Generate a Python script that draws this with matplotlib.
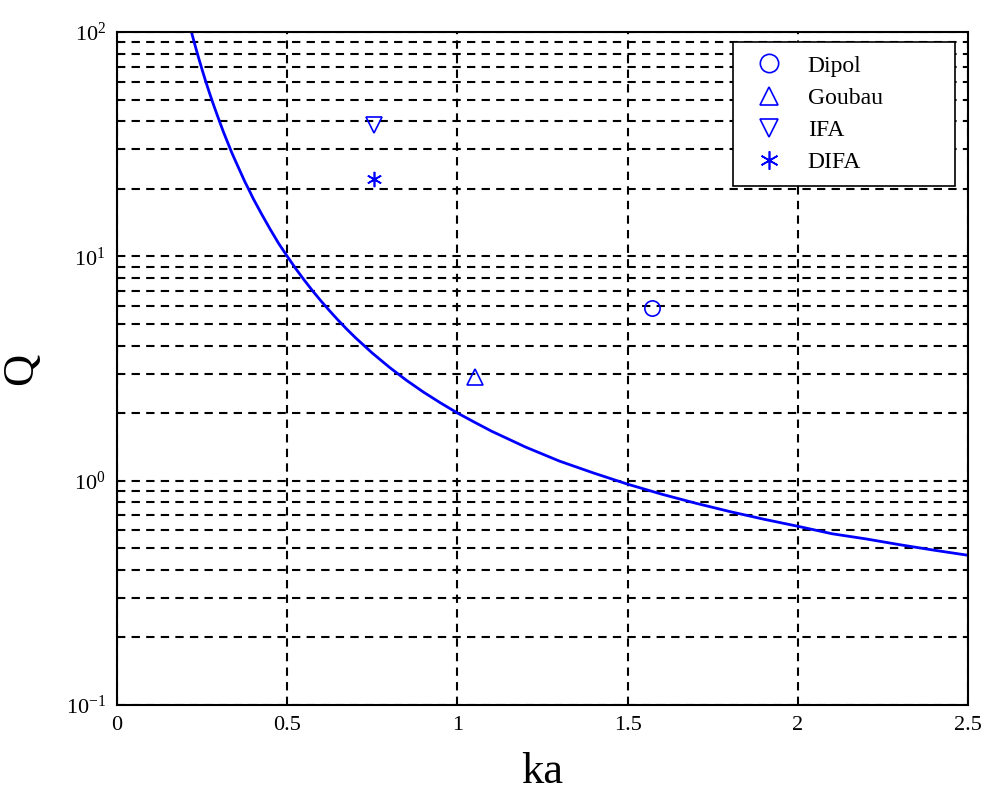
import numpy as np
import matplotlib.pyplot as plt
from matplotlib.ticker import FixedLocator, FuncFormatter

plt.rcParams['font.family'] = ['Liberation Serif', 'DejaVu Serif']
plt.rcParams['axes.unicode_minus'] = False

# Chu limit curve
ka = [0.22, 0.23, 0.24, 0.25, 0.26, 0.27, 0.28, 0.29, 0.30, 0.3125, 0.325,
      0.3375, 0.35, 0.3625, 0.375, 0.3875, 0.40, 0.425, 0.45, 0.475, 0.50,
      0.525, 0.55, 0.575, 0.60, 0.625, 0.65, 0.675, 0.70, 0.75, 0.80, 0.85,
      0.90, 0.95, 1.00, 1.05, 1.10, 1.15, 1.20, 1.30, 1.40, 1.50, 1.60,
      1.70, 1.80, 1.90, 2.00, 2.10, 2.20, 2.30, 2.40, 2.50]
q_chu = [98.4, 86.5, 76.5, 68.0, 60.7, 54.5, 49.1, 44.5, 40.4, 35.9, 32.2,
         28.9, 26.2, 23.8, 21.6, 19.8, 18.1, 15.4, 13.2, 11.4, 10.0,
         8.81, 7.83, 7.00, 6.30, 5.70, 5.18, 4.73, 4.34, 3.70, 3.20, 2.80,
         2.48, 2.22, 2.00, 1.82, 1.66, 1.53, 1.41, 1.22, 1.08, 0.963, 0.869,
         0.792, 0.727, 0.672, 0.625, 0.579, 0.549, 0.517, 0.489, 0.464]

# antenna points
names = ['Dipol', 'Goubau', 'IFA', 'DIFA']
ka_pts = [1.57, 1.05, 0.755, 0.755]
q_pts = [5.9, 2.9, 38.5, 22.0]
markers = ['o', '^', 'v', (6, 2, 0)]

fig = plt.figure(figsize=(9.87, 7.91), dpi=100)
ax = fig.add_axes([0.1185, 0.109, 0.8625, 0.8505])

ax.plot(ka, q_chu, color='#0000ff', lw=2)
for n, x, y, m in zip(names, ka_pts, q_pts, markers):
    ax.plot([x], [y], linestyle='none', marker=m, ms=11, mfc='none',
            mec='#0000ff', mew=1.2, label=n)

ax.set_yscale('log')
ax.set_xlim(0, 2.5)
ax.set_ylim(0.1, 100)
ax.set_xticks([0, 0.5, 1, 1.5, 2, 2.5])
ax.xaxis.set_major_formatter(FuncFormatter(lambda v, p: '%g' % v))
ax.yaxis.set_major_locator(FixedLocator([0.1, 1, 10, 100]))
ax.yaxis.set_major_formatter(FuncFormatter(
    lambda v, p: r'$\mathregular{10^{%d}}$' % int(round(np.log10(v)))))
minor = [k * 10.0 ** e for e in (-1, 0, 1) for k in range(2, 10)]
ax.yaxis.set_minor_locator(FixedLocator(minor))
ax.yaxis.set_minor_formatter(FuncFormatter(lambda v, p: ''))

ax.grid(True, which='major', axis='x', color='black', ls=(0, (4, 3)), lw=1.5)
ax.grid(True, which='both', axis='y', color='black', ls=(0, (4, 3)), lw=1.5)
ax.tick_params(which='both', direction='in', length=0, labelsize=16, pad=8)
for s in ax.spines.values():
    s.set_linewidth(1.5)

ax.set_xlabel('ka', fontsize=32, labelpad=12)
ax.set_ylabel('Q', fontsize=32, labelpad=18)

leg = ax.legend(loc='upper left', bbox_to_anchor=(0.724, 0.5, 0.261, 0.485),
                mode='expand', fontsize=17, frameon=True, fancybox=False,
                edgecolor='black', borderpad=0.55, labelspacing=0.45,
                handletextpad=0.7, handlelength=1.9, markerscale=1.2,
                borderaxespad=0)
leg.get_frame().set_linewidth(1.2)
leg.get_frame().set_alpha(1)

plt.savefig('out.png', dpi=100)
